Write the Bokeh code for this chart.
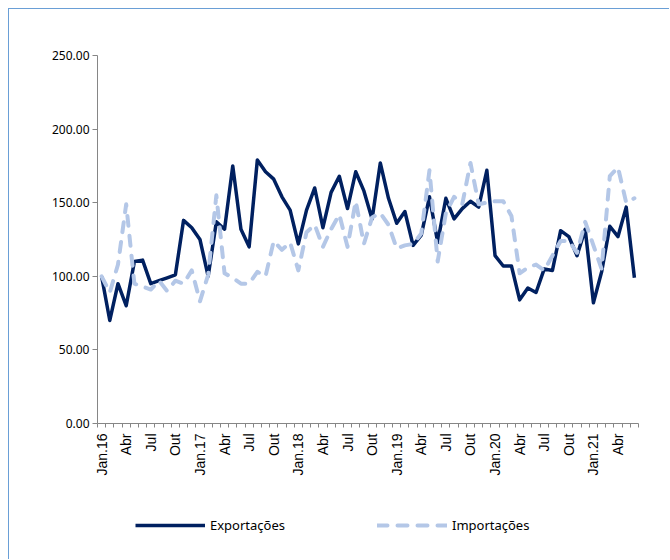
import math
from bokeh.plotting import figure
from bokeh.layouts import column
from bokeh.models import FixedTicker, Legend, LegendItem, Range1d, NumeralTickFormatter
from bokeh.embed import file_html
from bokeh.resources import INLINE

years = ["16", "17", "18", "19", "20", "21"]
month_names = ["Jan", "Fev", "Mar", "Abr", "Mai", "Jun", "Jul", "Ago", "Set", "Out", "Nov", "Dez"]

exports = [100, 70, 95, 80, 110, 111, 95, 97, 99, 101, 138, 133,
           125, 100, 137, 132, 175, 132, 120, 179, 171, 166, 154, 145,
           122, 145, 160, 133, 157, 168, 146, 171, 158, 139, 177, 153,
           136, 144, 121, 128, 154, 123, 153, 139, 146, 151, 147, 172,
           114, 107, 107, 84, 92, 89, 105, 104, 131, 127, 114, 132,
           82, 103, 134, 127, 147, 99]

imports = [100, 89, 108, 149, 95, 93, 91, 97, 90, 97, 95, 104,
           83, 101, 155, 102, 99, 95, 95, 103, 100, 124, 118, 123,
           104, 130, 135, 120, 132, 142, 120, 151, 122, 140, 143, 135,
           119, 121, 122, 129, 172, 110, 143, 154, 149, 177, 149, 150,
           151, 151, 141, 102, 106, 108, 104, 114, 124, 124, 116, 137,
           121, 105, 168, 174, 150, 153]

y_ticks = [0, 50, 100, 150, 200, 250]
series_names = ["Exportações", "Importações"]

periods = []
for yy in years:
    for m, name in enumerate(month_names):
        periods.append("Jan." + yy if m == 0 else name)
periods = periods[:len(exports)]
xs = list(range(len(exports)))

label_positions = [i for i in xs if i % 3 == 0]
label_overrides = {i: periods[i] for i in label_positions}

EXP_COL = "#002060"
IMP_COL = "#b4c7e7"
BORDER = "1px solid #6a9fd6"

n = len(xs)
p = figure(width=661, height=470, output_backend="svg", toolbar_location=None,
           x_range=Range1d(-0.5, n - 0.5), y_range=Range1d(0, 250),
           min_border_left=88, min_border_right=32, min_border_top=46, min_border_bottom=56)
p.styles = {"margin-top": "8px", "margin-left": "8px",
            "border-top": BORDER, "border-left": BORDER}
p.outline_line_color = None
p.xgrid.visible = False
p.ygrid.visible = False
p.background_fill_color = "white"
p.border_fill_color = "white"

axis_col = "#868686"
# y axis
p.yaxis.ticker = FixedTicker(ticks=y_ticks)
p.yaxis.formatter = NumeralTickFormatter(format="0.00")
p.yaxis.axis_line_color = axis_col
p.yaxis.major_tick_line_color = axis_col
p.yaxis.major_tick_in = 0
p.yaxis.major_tick_out = 5
p.yaxis.minor_tick_line_color = None
p.yaxis.major_label_text_font = "Noto Sans"
p.yaxis.major_label_text_font_size = "12px"
p.yaxis.major_label_text_color = "#000000"
p.yaxis.major_label_standoff = 3

# x axis
p.xaxis.ticker = FixedTicker(ticks=label_positions, minor_ticks=[i - 0.5 for i in range(n + 1)])
p.xaxis.major_label_overrides = label_overrides
p.xaxis.axis_line_color = axis_col
p.xaxis.major_tick_line_color = None
p.xaxis.major_tick_in = 0
p.xaxis.major_tick_out = 0
p.xaxis.minor_tick_line_color = axis_col
p.xaxis.minor_tick_in = 0
p.xaxis.minor_tick_out = 4
p.xaxis.major_label_orientation = math.pi / 2
p.xaxis.major_label_text_font = "Liberation Sans"
p.xaxis.major_label_text_font_size = "14px"
p.xaxis.major_label_text_color = "#000000"
p.xaxis.major_label_standoff = 6

p.line(xs, exports, line_color=EXP_COL, line_width=3.5, line_join="round")
p.line(xs, imports, line_color=IMP_COL, line_width=4, line_dash="10 10",
       line_cap="round", line_join="round")

# legend strip below the chart (its series lie outside its visible range;
# they only supply the legend glyph styles)
pl = figure(width=661, height=81, output_backend="svg", toolbar_location=None,
            x_axis_location=None, y_axis_location=None,
            x_range=Range1d(0, 1), y_range=Range1d(-2, -1),
            min_border_left=0, min_border_right=0, min_border_top=0, min_border_bottom=0)
pl.styles = {"margin-left": "8px", "border-left": BORDER}
pl.outline_line_color = None
pl.xgrid.visible = False
pl.ygrid.visible = False
pl.background_fill_color = "white"
pl.border_fill_color = "white"
le = pl.line(xs, exports, line_color=EXP_COL, line_width=3.5)
li = pl.line(xs, imports, line_color=IMP_COL, line_width=4, line_dash="10 10", line_cap="round")

legend = Legend(items=[LegendItem(label=series_names[0], renderers=[le]),
                       LegendItem(label=series_names[1], renderers=[li])],
                orientation="horizontal", location=(38, 25),
                glyph_width=70, glyph_height=16, label_height=16, label_standoff=5,
                spacing=92, padding=0, margin=0, border_line_color=None,
                background_fill_alpha=0,
                label_text_font="Noto Sans", label_text_font_size="13px",
                label_text_color="#000000")
pl.add_layout(legend)

layout = column(p, pl, spacing=0)
open("out.html", "w").write(file_html(layout, INLINE))
